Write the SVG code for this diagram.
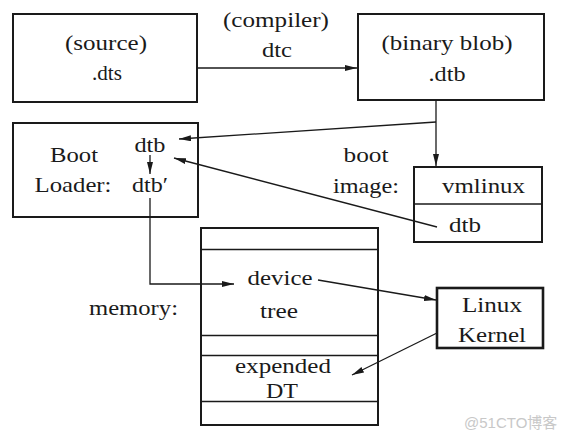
<svg xmlns="http://www.w3.org/2000/svg" width="573" height="438" viewBox="0 0 573 438">
<style>
text{font-family:"Liberation Serif","Times New Roman",serif;font-size:22px;fill:#1a1a1a;text-anchor:middle}
.box{fill:#fff;stroke:#1a1a1a;stroke-width:2}
.thick{stroke-width:2.6}
.sep{stroke:#1a1a1a;stroke-width:1.5;fill:none}
.ln{stroke:#1a1a1a;stroke-width:1.3;fill:none;marker-end:url(#ah)}
.wm{font-family:"Liberation Sans","Noto Sans CJK SC",sans-serif;font-size:15px;fill:#c8c8c8;text-anchor:start}
</style>
<defs>
<marker id="ah" viewBox="0 0 12 6" refX="12" refY="3" markerWidth="12" markerHeight="6" markerUnits="userSpaceOnUse" orient="auto">
<path d="M0,0 L12,3 L0,6 z" fill="#1a1a1a"/>
</marker>
</defs>
<g id="source">
<rect class="box" x="13" y="14" width="184" height="88"/>
<text x="106" y="50" textLength="82" lengthAdjust="spacingAndGlyphs">(source)</text>
<text x="107" y="80" textLength="30" lengthAdjust="spacingAndGlyphs">.dts</text>
</g>
<g id="compiler-label">
<text x="276" y="27" textLength="106" lengthAdjust="spacingAndGlyphs">(compiler)</text>
<text x="277" y="57" textLength="30" lengthAdjust="spacingAndGlyphs">dtc</text>
</g>
<g id="blob">
<rect class="box" x="358" y="14" width="186" height="86"/>
<text x="447" y="50" textLength="131" lengthAdjust="spacingAndGlyphs">(binary blob)</text>
<text x="447" y="81" textLength="37" lengthAdjust="spacingAndGlyphs">.dtb</text>
</g>
<g id="bootloader">
<rect class="box" x="13" y="123" width="185" height="94"/>
<text x="74" y="162" textLength="48" lengthAdjust="spacingAndGlyphs">Boot</text>
<text x="73" y="192" textLength="77" lengthAdjust="spacingAndGlyphs">Loader:</text>
<text x="150" y="152" textLength="31" lengthAdjust="spacingAndGlyphs">dtb</text>
<text x="150" y="192" textLength="36" lengthAdjust="spacingAndGlyphs">dtb′</text>
</g>
<g id="bootimage">
<text x="366" y="162" textLength="45" lengthAdjust="spacingAndGlyphs">boot</text>
<text x="366" y="193" textLength="66" lengthAdjust="spacingAndGlyphs">image:</text>
<rect class="box" x="414" y="167" width="128" height="75"/>
<line class="sep" x1="414" y1="204" x2="542" y2="204"/>
<text x="483.5" y="193" textLength="83" lengthAdjust="spacingAndGlyphs">vmlinux</text>
<text x="465" y="232" textLength="32" lengthAdjust="spacingAndGlyphs">dtb</text>
</g>
<g id="memory">
<text x="133.5" y="315" textLength="89" lengthAdjust="spacingAndGlyphs">memory:</text>
<rect class="box" x="201" y="228" width="177" height="197"/>
<line class="sep" x1="201" y1="249.5" x2="378" y2="249.5"/>
<line class="sep" x1="201" y1="335.5" x2="378" y2="335.5"/>
<line class="sep" x1="201" y1="355.5" x2="378" y2="355.5"/>
<line class="sep" x1="201" y1="401.5" x2="378" y2="401.5"/>
<text x="280" y="285" textLength="65" lengthAdjust="spacingAndGlyphs">device</text>
<text x="279" y="318" textLength="38" lengthAdjust="spacingAndGlyphs">tree</text>
<text x="283" y="373" textLength="96" lengthAdjust="spacingAndGlyphs">expended</text>
<text x="282" y="398" textLength="32" lengthAdjust="spacingAndGlyphs">DT</text>
</g>
<g id="kernel">
<rect class="box thick" x="437" y="288" width="106" height="60"/>
<text x="492" y="312" textLength="60" lengthAdjust="spacingAndGlyphs">Linux</text>
<text x="492" y="342" textLength="68" lengthAdjust="spacingAndGlyphs">Kernel</text>
</g>
<g id="connectors">
<line class="ln" x1="197" y1="68" x2="357" y2="68"/>
<line class="ln" x1="436" y1="100" x2="436" y2="166"/>
<line class="ln" x1="436" y1="122" x2="179" y2="139"/>
<line class="ln" x1="437" y1="227" x2="174" y2="158"/>
<line class="ln" x1="150" y1="155" x2="150" y2="174"/>
<polyline class="ln" points="150,198 150,284 234,284"/>
<line class="ln" x1="318" y1="280" x2="436" y2="300"/>
<line class="ln" x1="437" y1="333" x2="352" y2="375"/>
</g>
<text class="wm" x="464" y="428">@51CTO博客</text>
</svg>
